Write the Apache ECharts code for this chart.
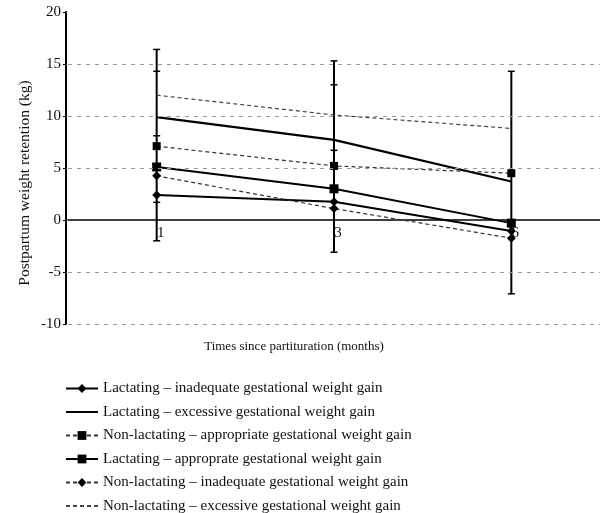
<!DOCTYPE html>
<html>
<head>
<meta charset="utf-8">
<script src="https://cdn.jsdelivr.net/npm/echarts@6/dist/echarts.min.js"></script>
<style>
  html, body { margin: 0; padding: 0; background: #fff; }
  #chart { width: 600px; height: 513px; }
</style>
</head>
<body>
<div id="chart"></div>
<script>
// Months since parturition (category axis)
const months = ['1', '3', '6'];

// Mean postpartum weight retention (kg) per group
const lactInadequate = [2.4, 1.75, -1.05];
const lactExcessive = [9.9, 7.7, 3.7];
const nonLactAppropriate = [7.1, 5.2, 4.5];
const lactAppropriate = [5.1, 3.0, -0.3];
const nonLactInadequate = [4.25, 1.1, -1.75];
const nonLactExcessive = [12.0, 10.1, 8.8];

// Spread of the error bars at each month
const errLow = [-2.0, -3.1, -7.1];
const errHigh = [16.4, 15.3, 14.3];
const innerCaps = [[14.3, 8.1, 1.7], [13.0, 6.7], []];

// Y axis ticks and dashed reference lines
const yTicks = [-10, -5, 0, 5, 10, 15, 20];
const refLines = [15, 10, 5, -5, -10];

const serif = 'Liberation Serif';

const names = [
  'Lactating \u2013 inadequate gestational weight gain',
  'Lactating \u2013 excessive gestational weight gain',
  'Non-lactating \u2013 appropriate gestational weight gain',
  'Lactating \u2013 approprate gestational weight gain',
  'Non-lactating \u2013 inadequate gestational weight gain',
  'Non-lactating \u2013 excessive gestational weight gain'
];

const chart = echarts.init(document.getElementById('chart'));

function lineSeries(name, data, opts) {
  return Object.assign({
    name: name,
    type: 'line',
    data: data,
    z: 3,
    symbol: 'none',
    symbolSize: 8,
    itemStyle: { color: '#000' },
    lineStyle: { color: '#000', width: 2 }
  }, opts);
}

const errData = months.map((m, i) => [i, errLow[i], errHigh[i]]);

// Plain line (no marker) in the legend for the unmarked series
const noMarker = { color: 'rgba(0,0,0,0)', borderWidth: 0 };

chart.setOption({
  animation: false,
  backgroundColor: '#fff',
  grid: { left: 68, right: -2, top: 12, bottom: 189, containLabel: false },
  xAxis: {
    type: 'category',
    data: months,
    boundaryGap: true,
    axisLine: { onZero: true, lineStyle: { color: '#000', width: 1.5 } },
    axisTick: { show: false },
    axisLabel: {
      fontFamily: serif, fontSize: 15, color: '#111',
      margin: -98, padding: [0, 0, 0, 8]
    },
    splitLine: { show: false }
  },
  yAxis: {
    type: 'value',
    min: yTicks[0],
    max: yTicks[yTicks.length - 1],
    interval: 5,
    offset: 2,
    axisLine: { show: true, onZero: false, lineStyle: { color: '#000', width: 2 } },
    axisTick: { show: true, length: 3, lineStyle: { color: '#000' } },
    axisLabel: { fontFamily: serif, fontSize: 15, color: '#111', margin: 5 },
    splitLine: { show: false }
  },
  legend: {
    orient: 'vertical',
    left: 65,
    top: 381,
    height: 200,
    padding: 0,
    itemWidth: 32,
    itemHeight: 11,
    itemGap: 8.5,
    textStyle: { fontFamily: serif, fontSize: 15, color: '#111' },
    data: [
      { name: names[0] },
      { name: names[1], itemStyle: noMarker },
      { name: names[2] },
      { name: names[3] },
      { name: names[4] },
      { name: names[5], itemStyle: noMarker }
    ]
  },
  graphic: [
    {
      type: 'text',
      x: 25, y: 183,
      rotation: Math.PI / 2,
      style: {
        text: 'Postpartum weight retention (kg)',
        font: '15.5px "Liberation Serif"', fill: '#111',
        align: 'center', verticalAlign: 'middle'
      }
    },
    {
      type: 'text',
      x: 294, y: 347,
      style: {
        text: 'Times since partituration (months)',
        font: '13px "Liberation Serif"', fill: '#111',
        align: 'center', verticalAlign: 'middle'
      }
    }
  ],
  series: [
    {
      type: 'custom',
      name: 'error',
      z: 2,
      data: errData,
      renderItem: function (params, api) {
        const i = api.value(0);
        const top = api.coord([i, api.value(2)]);
        const bot = api.coord([i, api.value(1)]);
        const x = top[0];
        const w = 3.5;
        const children = [
          { type: 'line', shape: { x1: x, y1: top[1], x2: x, y2: bot[1] }, style: { stroke: '#000', lineWidth: 2 } },
          { type: 'line', shape: { x1: x - w, y1: top[1], x2: x + w, y2: top[1] }, style: { stroke: '#000', lineWidth: 1.5 } },
          { type: 'line', shape: { x1: x - w, y1: bot[1], x2: x + w, y2: bot[1] }, style: { stroke: '#000', lineWidth: 1.5 } }
        ];
        innerCaps[params.dataIndex].forEach(function (v) {
          const p = api.coord([i, v]);
          children.push({ type: 'line', shape: { x1: x - w, y1: p[1], x2: x + w, y2: p[1] }, style: { stroke: '#000', lineWidth: 1.5 } });
        });
        return { type: 'group', children: children };
      },
      markLine: {
        silent: true,
        symbol: 'none',
        label: { show: false },
        lineStyle: { color: '#999', type: [4, 5], width: 1 },
        data: refLines.map(v => ({ yAxis: v }))
      }
    },
    lineSeries(names[0], lactInadequate,
      { symbol: 'diamond', symbolSize: 9 }),
    lineSeries(names[1], lactExcessive,
      { lineStyle: { color: '#000', width: 2.2 } }),
    lineSeries(names[2], nonLactAppropriate,
      { symbol: 'rect', symbolSize: 8, lineStyle: { color: '#333', width: 1.2, type: [4, 3] } }),
    lineSeries(names[3], lactAppropriate,
      { symbol: 'rect', symbolSize: 9 }),
    lineSeries(names[4], nonLactInadequate,
      { symbol: 'diamond', symbolSize: 9, lineStyle: { color: '#333', width: 1.2, type: [4, 3] } }),
    lineSeries(names[5], nonLactExcessive,
      { lineStyle: { color: '#444', width: 1.2, type: [4, 3] } })
  ]
});
</script>
</body>
</html>
